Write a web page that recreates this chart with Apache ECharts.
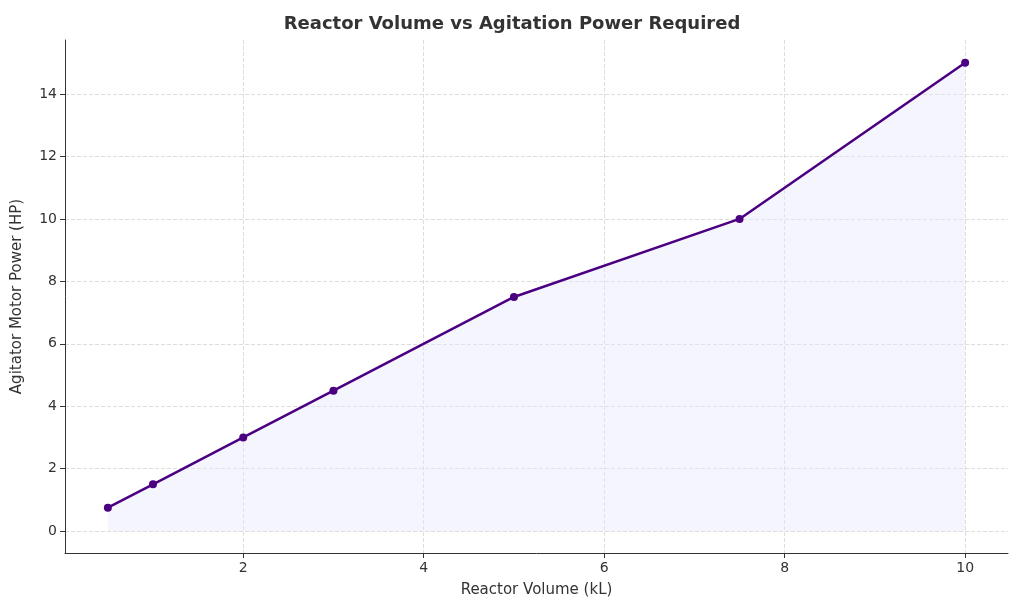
<!DOCTYPE html>
<html><head><meta charset="utf-8">
<script src="https://cdn.jsdelivr.net/npm/echarts@6/dist/echarts.min.js"></script>
<style>html,body{margin:0;padding:0;background:#fff}#c{width:1024px;height:614px}</style>
</head><body><div id="c"></div>
<script>
const volumes = [0.5, 1, 2, 3, 5, 7.5, 10];
const power = [0.75, 1.5, 3, 4.5, 7.5, 10, 15];
const xTicks = [2, 4, 6, 8, 10];
const yTicks = [0, 2, 4, 6, 8, 10, 12, 14];
const chart = echarts.init(document.getElementById('c'));
const font = 'DejaVu Sans';
chart.setOption({
  animation: false,
  title: {text: 'Reactor Volume vs Agitation Power Required', left: 'center', top: 10,
    textStyle: {fontFamily: font, fontSize: 18, fontWeight: 'bold', color: '#333'}},
  grid: {left: 65, right: 16, top: 40, bottom: 61},
  xAxis: {type: 'value', min: 0.025, max: 10.475, name: 'Reactor Volume (kL)', nameLocation: 'middle', nameGap: 30,
    nameTextStyle: {fontFamily: font, fontSize: 15, color: '#333'},
    axisLine: {onZero: false, lineStyle: {color: '#333'}},
    axisTick: {customValues: xTicks, length: 5, lineStyle: {color: '#333'}},
    axisLabel: {customValues: xTicks, fontFamily: font, fontSize: 14, color: '#333'},
    splitLine: {show: true, lineStyle: {type: 'dashed', color: '#ddd'}}},
  yAxis: {type: 'value', min: -0.7, max: 15.73, name: 'Agitator Motor Power (HP)', nameLocation: 'middle', nameGap: 40,
    nameTextStyle: {fontFamily: font, fontSize: 15, color: '#333'},
    axisLine: {show: true, onZero: false, lineStyle: {color: '#333'}},
    axisTick: {show: true, customValues: yTicks, length: 5, lineStyle: {color: '#333'}},
    axisLabel: {customValues: yTicks, fontFamily: font, fontSize: 14, color: '#333'},
    splitLine: {show: true, lineStyle: {type: 'dashed', color: '#ddd'}}},
  series: [{type: 'line', data: volumes.map((v, i) => [v, power[i]]),
    symbol: 'circle', symbolSize: 8,
    lineStyle: {color: '#4b0082', width: 2.5}, itemStyle: {color: '#4b0082'},
    areaStyle: {color: 'rgba(230,230,250,0.6)', origin: 0}}]
});
</script></body></html>
